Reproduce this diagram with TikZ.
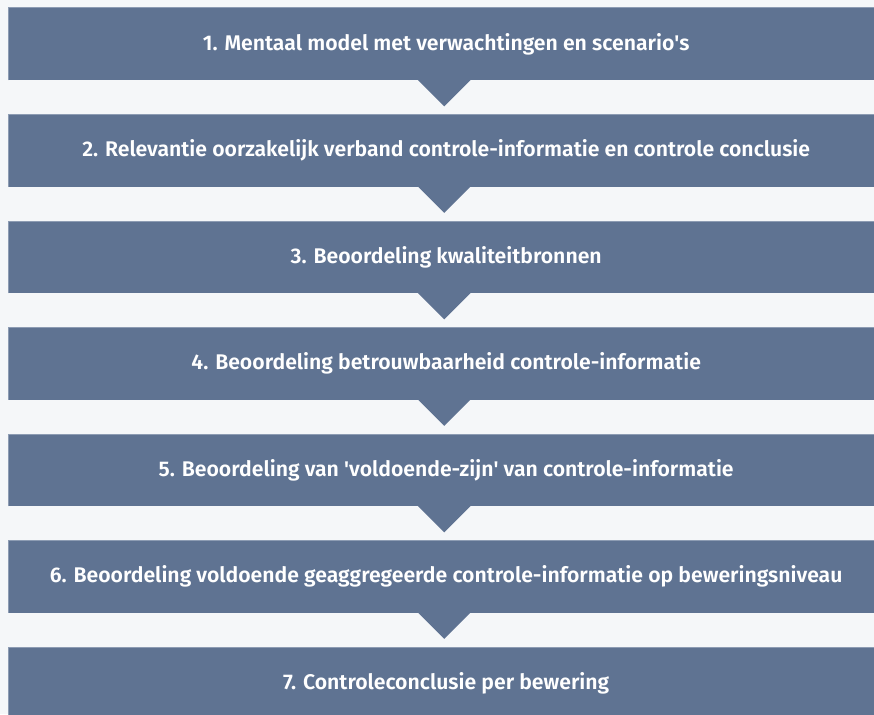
\documentclass[tikz,border=0pt]{standalone}
\usepackage{fontspec}
\setmainfont{Fira Sans}[BoldFont={Fira Sans SemiBold}]
\definecolor{bandc}{HTML}{5F7392}
\definecolor{bgc}{HTML}{F5F7F9}
\definecolor{edgec}{HTML}{8D9CB3}
\begin{document}
\begin{tikzpicture}[x=1pt,y=-1pt,
  stage/.style={fill=bandc, minimum width=876pt, minimum height=72pt, inner sep=0pt,
    anchor=north west, text=white, font=\fontsize{21.2}{24}\selectfont\bfseries},
  pointer/.style={fill=bandc},
  rim/.style={draw=edgec, line width=1pt}]
\useasboundingbox (0,0) rectangle (874,714);
\clip (0,0) rectangle (874,714);
\fill[bgc] (0,0) rectangle (874,714);
\node[stage] (b1) at (8,8) {1. Mentaal model met verwachtingen en scenario\textquotesingle s};
\node[stage] (b2) at (8,114.5) {2. Relevantie oorzakelijk verband controle-informatie en controle conclusie};
\node[stage] (b3) at (8,221) {3. Beoordeling kwaliteitbronnen};
\node[stage] (b4) at (8,327.5) {4. Beoordeling betrouwbaarheid controle-informatie};
\node[stage] (b5) at (8,434) {5. Beoordeling van \textquotesingle voldoende-zijn\textquotesingle\ van controle-informatie};
\node[stage] (b6) at (8,540.5) {6. Beoordeling voldoende geaggregeerde controle-informatie op beweringsniveau};
\node[stage] (b7) at (8,647) {7. Controleconclusie per bewering};
\foreach \n in {b1,b2,b3,b4,b5,b6,b7}{
  \draw[rim] (\n.south west) -- (\n.north west) -- (\n.north east);
}
\foreach \n in {b1,b2,b3,b4,b5,b6}{
  \fill[pointer] ([xshift=-28.5pt,yshift=0.5pt]\n.south) -- ([xshift=24.5pt,yshift=0.5pt]\n.south)
    -- ([xshift=-2pt,yshift=-26pt]\n.south) -- cycle;
}
\end{tikzpicture}
\end{document}
